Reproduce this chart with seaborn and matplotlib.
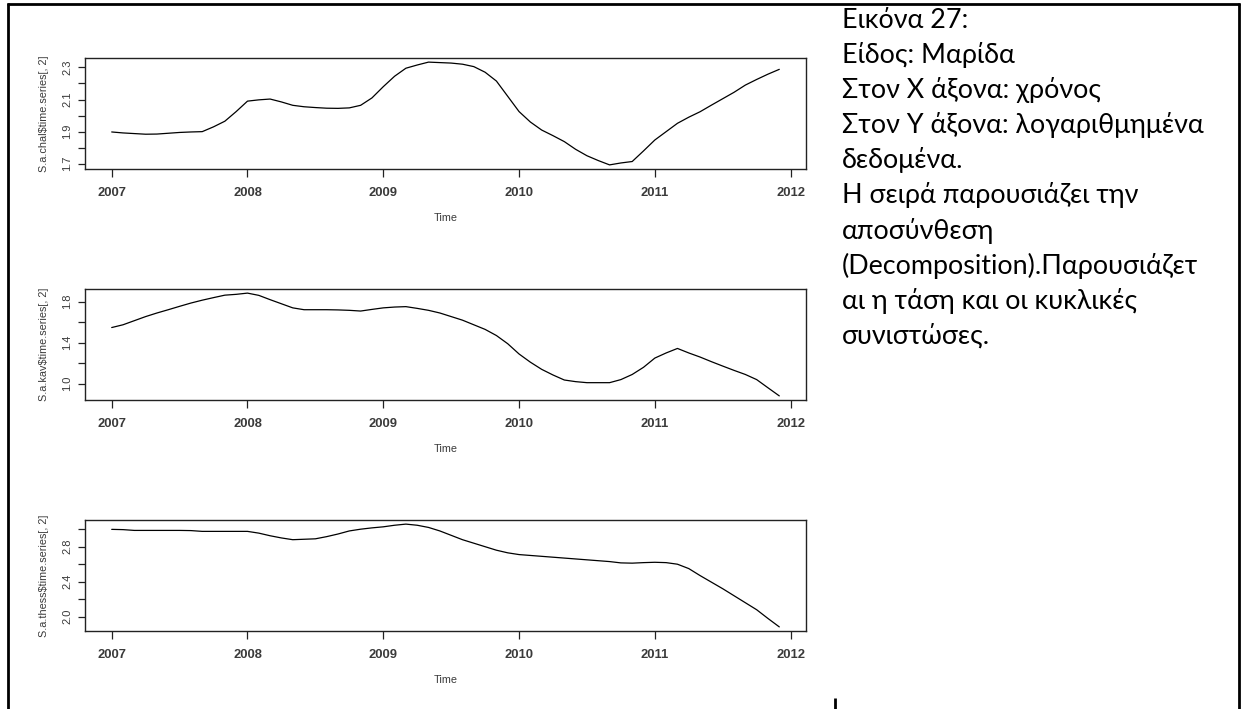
import numpy as np
import pandas as pd
import matplotlib
matplotlib.use("Agg")
import matplotlib.pyplot as plt
import seaborn as sns
from matplotlib.lines import Line2D

# Monthly trend components, Jan 2007 - Dec 2011 (log scale)
start_year = 2007
frequency = 12

chal = [1.898, 1.892, 1.888, 1.884, 1.885, 1.890, 1.895, 1.898, 1.900, 1.930,
        1.965, 2.025, 2.090, 2.098, 2.103, 2.085, 2.064, 2.055, 2.050, 2.046,
        2.045, 2.048, 2.064, 2.110, 2.180, 2.245, 2.295, 2.315, 2.333, 2.330,
        2.327, 2.320, 2.305, 2.270, 2.215, 2.120, 2.025, 1.960, 1.910, 1.875,
        1.838, 1.790, 1.750, 1.720, 1.693, 1.705, 1.714, 1.780, 1.848, 1.900,
        1.952, 1.990, 2.024, 2.065, 2.105, 2.145, 2.190, 2.225, 2.258, 2.288]

kav = [1.548, 1.575, 1.615, 1.655, 1.690, 1.722, 1.755, 1.787, 1.815, 1.840,
       1.864, 1.872, 1.884, 1.862, 1.820, 1.780, 1.740, 1.722, 1.722, 1.722,
       1.720, 1.716, 1.709, 1.725, 1.740, 1.748, 1.752, 1.735, 1.716, 1.690,
       1.655, 1.620, 1.575, 1.530, 1.470, 1.390, 1.290, 1.210, 1.140, 1.085,
       1.036, 1.020, 1.010, 1.010, 1.010, 1.040, 1.090, 1.160, 1.250, 1.300,
       1.344, 1.300, 1.260, 1.215, 1.172, 1.130, 1.090, 1.040, 0.960, 0.881]

thess = [2.998, 2.995, 2.986, 2.986, 2.986, 2.986, 2.986, 2.984, 2.975, 2.975,
         2.975, 2.975, 2.975, 2.955, 2.925, 2.900, 2.880, 2.885, 2.890, 2.915,
         2.945, 2.980, 3.000, 3.015, 3.027, 3.045, 3.058, 3.045, 3.020, 2.980,
         2.930, 2.880, 2.840, 2.800, 2.760, 2.730, 2.710, 2.700, 2.690, 2.680,
         2.670, 2.660, 2.650, 2.640, 2.630, 2.615, 2.612, 2.618, 2.622, 2.618,
         2.600, 2.550, 2.470, 2.395, 2.320, 2.240, 2.160, 2.080, 1.980, 1.884]

series_names = ["S.a.chal$time.series[, 2]",
                "S.a.kav$time.series[, 2]",
                "S.a.thess$time.series[, 2]"]

year_ticks = [2007, 2008, 2009, 2010, 2011, 2012]

y_ticks = [[1.7, 1.8, 1.9, 2.0, 2.1, 2.2, 2.3],
           [1.0, 1.2, 1.4, 1.6, 1.8],
           [2.0, 2.2, 2.4, 2.6, 2.8, 3.0]]
y_ticklabels = [["1.7", "", "1.9", "", "2.1", "", "2.3"],
                ["1.0", "", "1.4", "", "1.8"],
                ["2.0", "", "2.4", "", "2.8", ""]]

caption_lines = ["Εικόνα 27:",
                 "Είδος: Μαρίδα",
                 "Στον X άξονα: χρόνος",
                 "Στον Y άξονα: λογαριθμημένα",
                 "δεδομένα.",
                 "Η σειρά παρουσιάζει την",
                 "αποσύνθεση",
                 "(Decomposition).Παρουσιάζετ",
                 "αι η τάση και οι κυκλικές",
                 "συνιστώσες."]

sns.set_theme(style="white")
plt.rcParams["font.family"] = ["Liberation Sans", "DejaVu Sans"]

W, H = 1241, 709
fig = plt.figure(figsize=(W / 100, H / 100), dpi=100)
fig.patch.set_facecolor("white")

time = start_year + np.arange(len(chal)) / frequency


def r_range(lo, hi):
    pad = 0.04 * (hi - lo)
    return lo - pad, hi + pad


# Panel boxes in pixel coordinates: (left, top, right, bottom)
panel_px = [(85, 58, 806, 169), (85, 289, 806, 400), (85, 520, 806, 631)]
ink = "#222222"
label_col = "#3a3a3a"

for i, values in enumerate([chal, kav, thess]):
    l, t, r, b = panel_px[i]
    ax = fig.add_axes([l / W, 1 - b / H, (r - l) / W, (b - t) / H])
    df = pd.DataFrame({"Time": time, "value": values})
    sns.lineplot(data=df, x="Time", y="value", ax=ax, color="black",
                 linewidth=0.9)
    ax.set_xlim(*r_range(time.min(), time.max()))
    ax.set_ylim(*r_range(min(values), max(values)))
    ax.set_xticks(year_ticks)
    ax.set_xticklabels([str(y) for y in year_ticks], fontsize=9.4,
                       fontweight="bold", color=label_col)
    ax.set_yticks(y_ticks[i])
    ax.set_yticklabels(y_ticklabels[i], fontsize=8, rotation=90,
                       va="center", color=label_col)
    ax.tick_params(axis="x", length=6, width=0.9, color=ink, pad=7,
                   direction="out", bottom=True)
    ax.tick_params(axis="y", length=5, width=0.9, color=ink, pad=4,
                   direction="out", left=True)
    for sp in ax.spines.values():
        sp.set_visible(True)
        sp.set_color(ink)
        sp.set_linewidth(1.0)
    ax.set_xlabel("Time", fontsize=7.8, color=label_col, labelpad=10)
    ax.set_ylabel(series_names[i], fontsize=7.8, color=label_col, labelpad=10)
    ax.grid(False)
    ax.set_facecolor("white")

# Caption text on the right
for k, line in enumerate(caption_lines):
    fig.text(842 / W, 1 - (28 + 35.1 * k) / H, line, fontsize=19.4,
             family=["Lato", "DejaVu Sans"], color="black", va="baseline",
             ha="left")

# Document frame
def px_line(x0, y0, x1, y1, lw=2.0):
    fig.add_artist(Line2D([x0 / W, x1 / W], [1 - y0 / H, 1 - y1 / H],
                          transform=fig.transFigure, color="black",
                          linewidth=lw, solid_capstyle="butt"))

px_line(7, 3.5, 1239.5, 3.5)
px_line(8, 2.5, 8, H)
px_line(1238.5, 2.5, 1238.5, H)
px_line(835, 698, 835, H)

fig.savefig("out.png", dpi=100, facecolor="white")
